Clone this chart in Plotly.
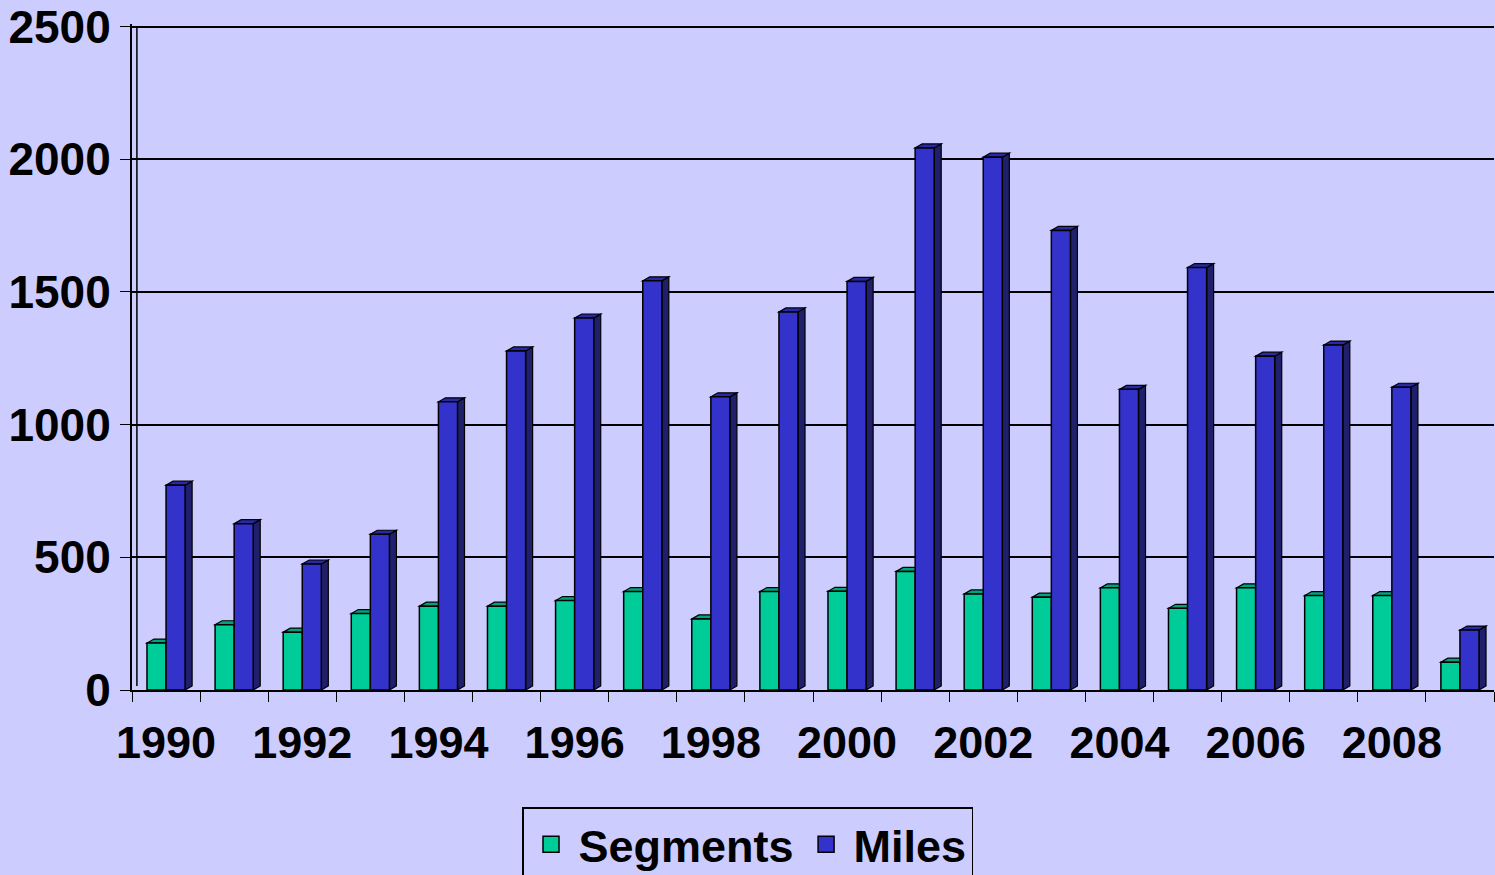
import plotly.graph_objects as go

years = [str(y) for y in range(1990, 2010)]
segments = [177, 246, 218, 288, 316, 316, 337, 371, 268, 371, 372, 447, 362, 350, 385, 308, 385, 356, 356, 105]
miles = [772, 627, 475, 587, 1086, 1278, 1402, 1542, 1105, 1425, 1540, 2043, 2008, 1732, 1133, 1592, 1258, 1300, 1141, 226]
tick_labels = [y if int(y) % 2 == 0 else "" for y in years]
y_ticks = [0, 500, 1000, 1500, 2000, 2500]

BG = "#CCCCFF"
SEG_FRONT, SEG_SIDE, SEG_TOP = "#00CC99", "#007A5C", "#00A37A"
MIL_FRONT, MIL_SIDE, MIL_TOP = "#3333CC", "#1F1F6B", "#2929A3"
FONT = "Liberation Sans, Arial"

# layout geometry (pixels)
W, H = 1495, 875
ML, MR, MT, MB = 132, 1, 22, 185
plot_w = W - ML - MR
plot_h = H - MT - MB
YMAX = 2510
n = len(years)
bar_w = 0.28
gap = 1 - 2 * bar_w
# depth of the 3-D faces, converted from pixels to axis units
dx = 7 / (plot_w / n)
dy = 4 / (plot_h / YMAX)

idx = list(range(n))
fig = go.Figure()
fig.add_trace(go.Bar(x=idx, y=segments, name="Segments",
                     marker=dict(color=SEG_FRONT, line=dict(color="black", width=1.5)), showlegend=False))
fig.add_trace(go.Bar(x=idx, y=miles, name="Miles",
                     marker=dict(color=MIL_FRONT, line=dict(color="black", width=1.5)), showlegend=False))
# legend entries
for name, col in [("Segments", SEG_FRONT), ("Miles", MIL_FRONT)]:
    fig.add_trace(go.Scatter(x=[None], y=[None], mode="markers", name=name,
                             marker=dict(symbol="square", size=16, color=col,
                                         line=dict(color="black", width=1.5))))

shapes = []
for i in idx:
    for k, (vals, side, top) in enumerate([(segments, SEG_SIDE, SEG_TOP), (miles, MIL_SIDE, MIL_TOP)]):
        v = vals[i]
        x0 = i - bar_w + k * bar_w
        x1 = x0 + bar_w
        side_path = f"M{x1},0 L{x1+dx},{dy} L{x1+dx},{v+dy} L{x1},{v} Z"
        top_path = f"M{x0},{v} L{x1},{v} L{x1+dx},{v+dy} L{x0+dx},{v+dy} Z"
        shapes.append(dict(type="path", path=side_path, xref="x", yref="y", fillcolor=side,
                           line=dict(color="black", width=1.2), layer="between"))
        shapes.append(dict(type="path", path=top_path, xref="x", yref="y", fillcolor=top,
                           line=dict(color="black", width=1.2), layer="between"))
# back wall edge (second vertical line of the 3-D frame)
shapes.append(dict(type="line", xref="x", yref="y", x0=-0.5 + dx * 0.7, x1=-0.5 + dx * 0.7,
                   y0=dy, y1=2500, line=dict(color="black", width=1.5), layer="between"))

fig.update_layout(
    width=W, height=H,
    margin=dict(l=ML, r=MR, t=MT, b=MB, pad=0),
    paper_bgcolor=BG, plot_bgcolor=BG,
    barmode="group", bargap=gap, bargroupgap=0,
    shapes=shapes,
    font=dict(family=FONT, color="black", weight="bold"),
    legend=dict(orientation="h", xref="container", yref="container", x=0.5, y=1 - 807 / H,
                xanchor="center", yanchor="top", bgcolor=BG, bordercolor="black", borderwidth=1.5,
                font=dict(size=45, family=FONT, weight="bold"),
                itemwidth=45),
)
fig.update_yaxes(range=[0, YMAX], tickvals=y_ticks, showgrid=True, gridcolor="black", gridwidth=1.5,
                 showline=True, linecolor="black", linewidth=2, ticks="outside", ticklen=10,
                 tickcolor="black", tickfont=dict(size=46, family=FONT, weight="bold"),
                 ticklabeloverflow="allow", zeroline=False, fixedrange=True)
fig.update_xaxes(range=[-0.5, n - 0.5], tickvals=idx, ticktext=tick_labels, ticks="", showgrid=False,
                 showline=True, linecolor="black", linewidth=2,
                 minor=dict(tick0=-0.5, dtick=1, ticks="outside", ticklen=10, tickcolor="black", showgrid=False),
                 tickfont=dict(size=45, family=FONT, weight="bold"),
                 ticklabelstandoff=12, zeroline=False, fixedrange=True)

fig.write_html("out.html", config={"displayModeBar": False},
               post_script="document.body.style.margin='0';")
